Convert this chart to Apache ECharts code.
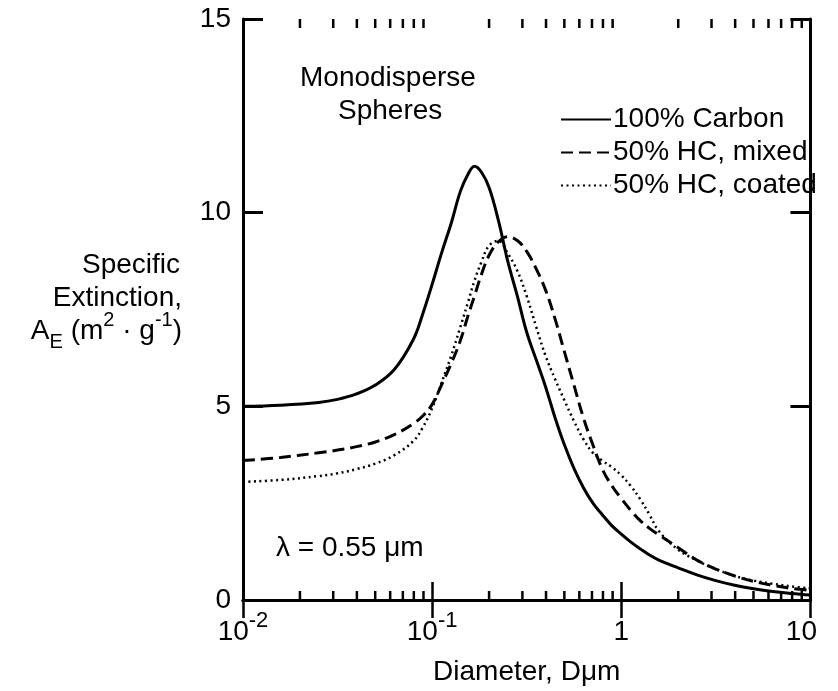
<!DOCTYPE html>
<html>
<head>
<meta charset="utf-8">
<script src="https://cdn.jsdelivr.net/npm/echarts@6/dist/echarts.min.js"></script>
<style>
html,body{margin:0;padding:0;background:#fff;}
#chart{width:838px;height:691px;}
</style>
</head>
<body>
<div id="chart"></div>
<script>
// ---- data: diameter D (µm) and specific extinction A_E (m^2/g) ----
var diameters = [0.01, 0.0158, 0.0251, 0.0316, 0.0398, 0.0501, 0.0631, 0.0794, 0.0891, 0.1,
                 0.112, 0.126, 0.141, 0.155, 0.1675, 0.182, 0.2, 0.224, 0.251, 0.282, 0.316,
                 0.355, 0.398, 0.447, 0.501, 0.562, 0.631, 0.708, 0.794, 0.891, 1.0,
                 1.12, 1.26, 1.41, 1.58, 2.0, 2.51, 3.16, 3.98, 5.01, 6.31, 7.94, 10];

var carbon = [5.00, 5.03, 5.10, 5.18, 5.32, 5.55, 5.95, 6.72, 7.38, 8.15,
              8.95, 9.72, 10.55, 11.0, 11.2, 11.05, 10.65, 9.8, 8.75, 7.85, 6.92,
              6.2, 5.5, 4.7, 4.0, 3.4, 2.9, 2.5, 2.2, 1.92, 1.7,
              1.5, 1.32, 1.16, 1.03, 0.83, 0.65, 0.5, 0.38, 0.29, 0.22, 0.17, 0.13];

var hcMixed = [3.60, 3.68, 3.80, 3.87, 3.96, 4.08, 4.27, 4.55, 4.75, 5.05,
               5.55, 6.1, 6.7, 7.35, 7.85, 8.4, 8.9, 9.25, 9.38, 9.28, 9.0,
               8.55, 8.0, 7.25, 6.4, 5.55, 4.7, 4.0, 3.38, 2.95, 2.62,
               2.32, 2.05, 1.85, 1.68, 1.35, 1.03, 0.8, 0.62, 0.48, 0.38, 0.3, 0.25];

var hcCoated = [3.05, 3.10, 3.20, 3.27, 3.38, 3.52, 3.74, 4.1, 4.45, 4.95,
                5.6, 6.3, 7.05, 7.7, 8.25, 8.72, 9.15, 9.27, 8.95, 8.5, 7.85,
                7.05, 6.3, 5.7, 5.15, 4.62, 4.15, 3.8, 3.6, 3.43, 3.22,
                2.95, 2.6, 2.2, 1.78, 1.3, 1.02, 0.8, 0.62, 0.5, 0.42, 0.35, 0.3];

var seriesNames = ['100% Carbon', '50% HC, mixed', '50% HC, coated'];

// ---- axes / tick labels ----
var xMin = 0.01, xMax = 10;
var yMin = 0, yMax = 15, yInterval = 5;
var xTickLabels = {'0.01': '{b|10}{s|-2}', '0.1': '{b|10}{s|-1}', '1': '{b|1}', '10': '{r|10}'};
var xMinorTicks = [0.02,0.03,0.04,0.05,0.06,0.07,0.08,0.09, 0.2,0.3,0.4,0.5,0.6,0.7,0.8,0.9, 2,3,4,5,6,7,8,9];

function pairs(xs, ys){ return xs.map(function(x,i){ return [x, ys[i]]; }); }

var FONT = 'Liberation Sans, Arial, Helvetica, sans-serif';
var FS = 28;

var chart = echarts.init(document.getElementById('chart'), null, {renderer:'canvas'});
var axisLine = {show:true, lineStyle:{color:'#000', width:3}};

var option = {
  backgroundColor:'#fff',
  animation:false,
  grid:{left:243, right:11, top:19, bottom:78, containLabel:false},
  legend:{
    data: seriesNames,
    orient:'vertical',
    left:555, top:100,
    itemWidth:50, itemHeight:14, itemGap:4,
    itemStyle:{opacity:0},
    textStyle:{fontFamily:FONT, fontSize:FS, color:'#000', lineHeight:29, padding:[0,0,0,-3]}
  },
  xAxis:[{
    type:'log', logBase:10, min:xMin, max:xMax, position:'bottom',
    axisLine:axisLine,
    axisTick:{show:true, inside:true, length:18, lineStyle:{color:'#000', width:2.5}},
    splitLine:{show:false}, minorTick:{show:false},
    axisLabel:{
      margin:10, color:'#000', fontFamily:FONT, fontSize:FS,
      formatter:function(v){ var k = String(+v.toPrecision(3)); return xTickLabels[k] || ''; },
      rich:{
        b:{fontFamily:FONT, fontSize:FS, color:'#000', lineHeight:44},
        s:{fontFamily:FONT, fontSize:22, color:'#000', lineHeight:22, verticalAlign:'top'},
        r:{fontFamily:FONT, fontSize:FS, color:'#000', lineHeight:44, padding:[0,18,0,0]}
      }
    },
    name:'Diameter, D\u03bcm', nameLocation:'middle', nameGap:58,
    nameTextStyle:{fontFamily:FONT, fontSize:FS, color:'#000'}
  },{
    type:'log', logBase:10, min:xMin, max:xMax, position:'top',
    axisLine:axisLine,
    axisTick:{show:true, inside:true, length:18, lineStyle:{color:'#000', width:2.5}},
    axisLabel:{show:false}, splitLine:{show:false}
  }],
  yAxis:[{
    type:'value', min:yMin, max:yMax, interval:yInterval, position:'left',
    axisLine:axisLine,
    axisTick:{show:true, inside:true, length:20, lineStyle:{color:'#000', width:3}},
    splitLine:{show:false},
    axisLabel:{margin:12, color:'#000', fontFamily:FONT, fontSize:FS}
  },{
    type:'value', min:yMin, max:yMax, interval:yInterval, position:'right',
    axisLine:axisLine,
    axisTick:{show:true, inside:true, length:20, lineStyle:{color:'#000', width:3}},
    splitLine:{show:false}, axisLabel:{show:false}
  }],
  graphic:[
    {type:'text', left:300, top:64, style:{text:'Monodisperse', font:FS+'px '+FONT, fill:'#000'}},
    {type:'text', left:338, top:97, style:{text:'Spheres', font:FS+'px '+FONT, fill:'#000'}},
    {type:'text', left:276, top:534, style:{text:'\u03bb = 0.55 \u03bcm', font:FS+'px '+FONT, fill:'#000'}},
    {type:'text', x:180, y:265, style:{text:'Specific', font:FS+'px '+FONT, fill:'#000', align:'right', verticalAlign:'middle'}},
    {type:'text', x:182, y:298, style:{text:'Extinction,', font:FS+'px '+FONT, fill:'#000', align:'right', verticalAlign:'middle'}},
    {type:'text', x:182, y:331, style:{
      text:'{t|A}{sub|E}{t| (m}{sup|2}{t| \u00b7 g}{sup|-1}{t|)}',
      font:FS+'px '+FONT, fill:'#000', align:'right', verticalAlign:'middle',
      rich:{
        t:{fontFamily:FONT, fontSize:FS, fill:'#000', lineHeight:42},
        sup:{fontFamily:FONT, fontSize:20, fill:'#000', lineHeight:20, verticalAlign:'top'},
        sub:{fontFamily:FONT, fontSize:20, fill:'#000', lineHeight:20, verticalAlign:'bottom'}
      }
    }}
  ],
  series:[
    {name:seriesNames[0], type:'line', data:pairs(diameters, carbon), smooth:0.4, symbol:'none',
     lineStyle:{color:'#000', width:3, type:'solid'}, itemStyle:{color:'#000'}},
    {name:seriesNames[1], type:'line', data:pairs(diameters, hcMixed), smooth:0.4, symbol:'none',
     lineStyle:{color:'#000', width:3, type:[12,6]}, itemStyle:{color:'#000'}},
    {name:seriesNames[2], type:'line', data:pairs(diameters, hcCoated), smooth:0.4, symbol:'none',
     lineStyle:{color:'#000', width:2.5, type:[2,3.5]}, itemStyle:{color:'#000'}},
    {name:'minorTicks', type:'custom', silent:true, xAxisIndex:0, yAxisIndex:0,
     data: xMinorTicks.map(function(v){ return [v, yMin]; }),
     renderItem:function(params, api){
       var v = api.value(0);
       var b = api.coord([v, yMin]);
       var t = api.coord([v, yMax]);
       var st = {stroke:'#000', lineWidth:2.5};
       return {type:'group', children:[
         {type:'line', shape:{x1:b[0], y1:b[1], x2:b[0], y2:b[1]-9}, style:st},
         {type:'line', shape:{x1:t[0], y1:t[1], x2:t[0], y2:t[1]+9}, style:st}
       ]};
     }
    }
  ]
};
chart.setOption(option);
</script>
</body>
</html>
